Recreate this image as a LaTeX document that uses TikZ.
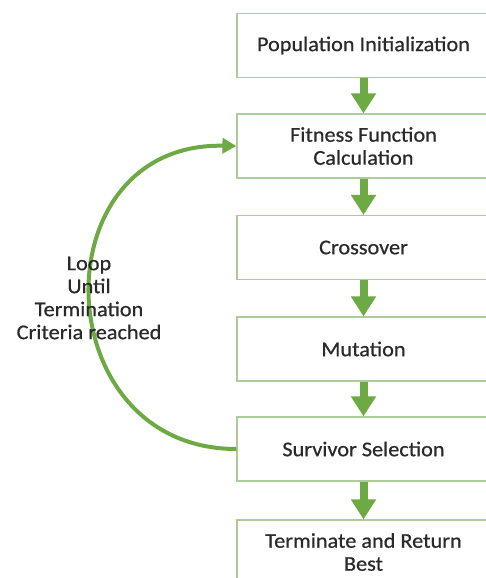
\documentclass[tikz,border=0pt]{standalone}
\usepackage{fontspec}
\setmainfont{Carlito}[FakeStretch=1.06,FakeBold=0.6]
\usetikzlibrary{arrows.meta}
\definecolor{boxline}{HTML}{AECB9A}
\definecolor{agreen}{HTML}{6DAA43}
\definecolor{txt}{HTML}{2A2A2A}
\begin{document}
\begin{tikzpicture}[x=1pt,y=-1pt,
  stepbox/.style={draw=boxline, line width=1.2pt, fill=white, minimum width=253pt, minimum height=64pt,
    inner sep=0pt, align=center, text=txt, font=\fontsize{21}{23}\selectfont},
  flow/.style={draw=agreen, line width=8pt, -{Triangle[width=24pt,length=20pt]}},
  loop/.style={draw=agreen, line width=4pt, -{Triangle[width=15pt,length=14pt]}}]
\useasboundingbox (0,0) rectangle (485,578);
\node[stepbox] (pi) at (363.5,45.5) {Population Initialization};
\node[stepbox] (ff) at (363.5,146) {Fitness Function\\Calculation};
\node[stepbox] (co) at (363.5,247.5) {Crossover};
\node[stepbox] (mu) at (363.5,349) {Mutation};
\node[stepbox] (ss) at (363.5,449) {Survivor Selection};
\node[stepbox] (te) at (363.5,552) {Terminate and Return\\Best};
\draw[flow] (pi.south) -- (ff.north);
\draw[flow] (ff.south) -- (co.north);
\draw[flow] (co.south) -- (mu.north);
\draw[flow] (mu.south) -- (ss.north);
\draw[flow] (ss.south) -- (te.north);
\draw[loop] (ss.west) .. controls (45,449) and (38,142) .. (ff.west);
\node[align=center, text=txt, font=\fontsize{21}{23}\selectfont, inner sep=0pt] (lbl) at (89,298)
  {Loop\\Until\\Termination\\Criteria reached};
\end{tikzpicture}
\end{document}
